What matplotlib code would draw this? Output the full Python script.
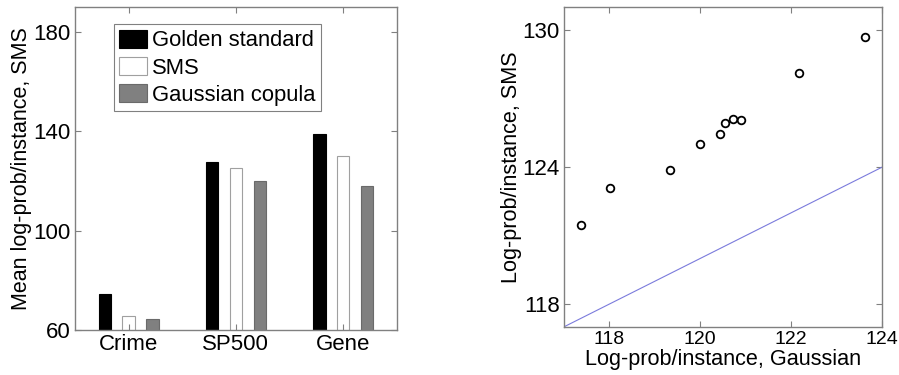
import numpy as np
import matplotlib
matplotlib.use("Agg")
import matplotlib.pyplot as plt

plt.rcParams.update({
    "font.family": ["Liberation Sans", "DejaVu Sans"], "font.size": 16,
    "xtick.direction": "in", "ytick.direction": "in",
    "xtick.top": True, "ytick.right": True,
    "xtick.major.size": 4, "ytick.major.size": 4,
    "xtick.major.pad": 3, "ytick.major.pad": 3,
    "xtick.color": "#808080", "ytick.color": "#808080",
    "xtick.labelcolor": "black", "ytick.labelcolor": "black",
    "axes.edgecolor": "#808080", "axes.linewidth": 1.0,
})

# left panel: mean log-prob per data set
datasets = ["Crime", "SP500", "Gene"]
golden = [74.5, 127.6, 138.8]
sms = [65.6, 125.3, 130.2]
gauss = [64.4, 120.1, 118.1]

# right panel: per-instance comparison
gauss_x = [117.37, 118.02, 119.33, 120.0, 120.43, 120.54, 120.72, 120.9, 122.18, 123.62]
sms_y = [121.47, 123.08, 123.88, 125.0, 125.44, 125.92, 126.11, 126.07, 128.1, 129.68]

fig = plt.figure(figsize=(8.99, 3.75), dpi=100)

# ---------------------------------------------------------------- bars
ax = fig.add_axes([0.0834, 0.12, 0.358, 0.861])
x = np.arange(1, len(datasets) + 1)
w, off = 0.115, 0.222
ax.bar(x - off, golden, w, color="black", edgecolor="black", lw=0.8, label="Golden standard")
ax.bar(x, sms, w, color="white", edgecolor="#a0a0a0", lw=0.8, label="SMS")
ax.bar(x + off, gauss, w, color="#808080", edgecolor="#6a6a6a", lw=0.8, label="Gaussian copula")
ax.set_xlim(0.5, 3.5); ax.set_ylim(60, 190)
ax.set_xticks(x); ax.set_xticklabels(datasets)
ax.set_yticks([60, 100, 140, 180])
ax.set_ylabel("Mean log-prob/instance, SMS", fontsize=15.5, labelpad=1)
leg = ax.legend(loc="upper left", bbox_to_anchor=(0.121, 0.947), fancybox=False,
                framealpha=1, edgecolor="#808080", handlelength=1.25, handleheight=0.9,
                handletextpad=0.25, borderpad=0.25, borderaxespad=0,
                labelspacing=0.25, fontsize=15.8)
leg.get_frame().set_linewidth(0.8)

# ---------------------------------------------------------------- scatter
ax2 = fig.add_axes([0.627, 0.128, 0.3544, 0.853])
ax2.plot([117, 124], [117, 124], color="#7b7bdc", lw=0.8)
ax2.plot(gauss_x, sms_y, "o", mfc="none", mec="black", ms=5.5, mew=1.3)
ax2.set_xlim(117, 124); ax2.set_ylim(117, 131)
ax2.set_xticks([118, 120, 122, 124]); ax2.set_yticks([118, 124, 130])
ax2.tick_params(axis="x", labelsize=14)
ax2.set_xlabel("Log-prob/instance, Gaussian", fontsize=15.6, labelpad=0.5)
ax2.set_ylabel("Log-prob/instance, SMS", fontsize=15.6, labelpad=0)

fig.savefig("out.png", dpi=100)
